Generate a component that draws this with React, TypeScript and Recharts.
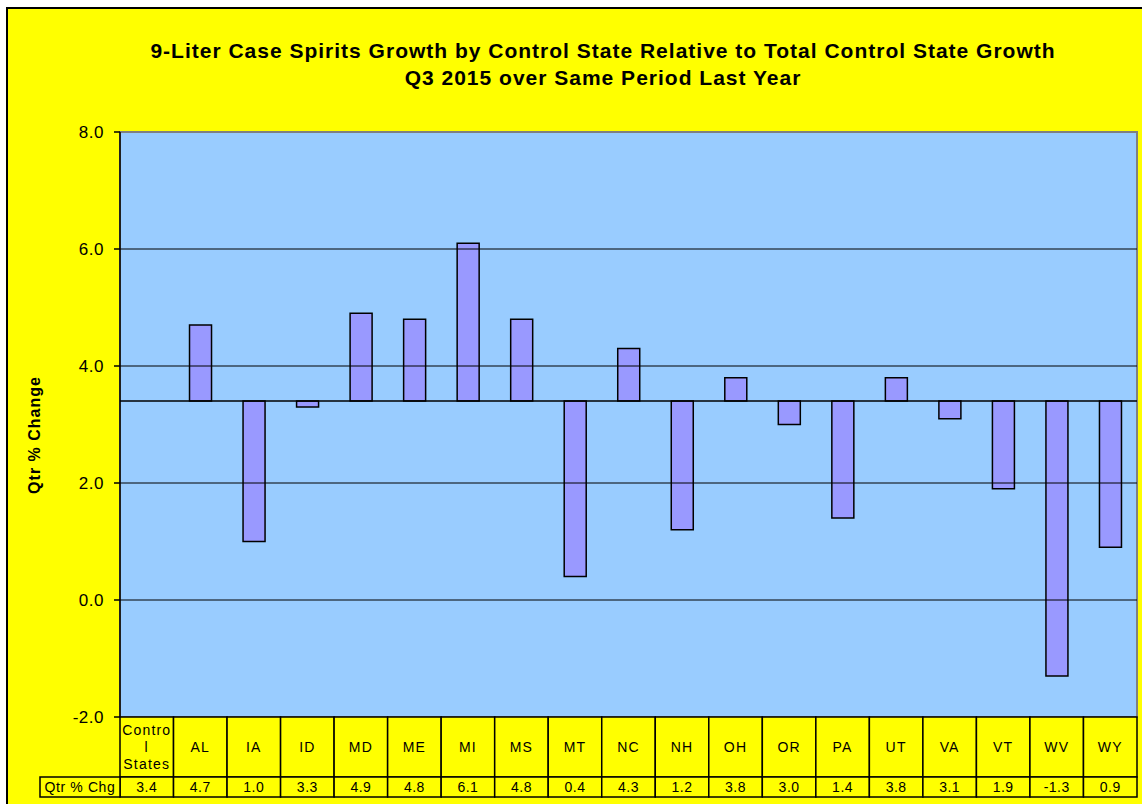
import React from 'react';
import { ComposedChart, Bar, XAxis, YAxis, CartesianGrid, ReferenceLine, ReferenceArea, Label } from 'recharts';

const states = ['Control States', 'AL', 'IA', 'ID', 'MD', 'ME', 'MI', 'MS', 'MT', 'NC', 'NH', 'OH', 'OR', 'PA', 'UT', 'VA', 'VT', 'WV', 'WY'];
const qtrChange = [3.4, 4.7, 1.0, 3.3, 4.9, 4.8, 6.1, 4.8, 0.4, 4.3, 1.2, 3.8, 3.0, 1.4, 3.8, 3.1, 1.9, -1.3, 0.9];
const yTicks = [-2, 0, 2, 4, 6, 8];
const gridValues = [0, 2, 4, 6];

// the total control state growth is where the bars hang from
const base = qtrChange[0];

const data = states.map((state, i) => ({
  state,
  value: qtrChange[i],
  range: [Math.min(base, qtrChange[i]), Math.max(base, qtrChange[i])],
}));

const W = 1142;
const H = 804;
const PLOT_LEFT = 120;
const PLOT_RIGHT = 5;
const BAND = (W - PLOT_LEFT - PLOT_RIGHT) / states.length;
const CAT_ROW = 60;
const VAL_ROW = 20;
const FONT = '"Liberation Sans", Arial, sans-serif';

// Excel wrapped the long category label in its narrow cell
const wrapped: Record<string, string[]> = {
  'Control States': ['Contro', 'l', 'States'],
};

function TableTick(props: any) {
  const { x, y, payload, index } = props;
  const left = x - BAND / 2;
  const lines = wrapped[payload.value] || [payload.value];
  const val = qtrChange[index];
  return (
    <g fontFamily={FONT} fontSize={14} fill="#000">
      <rect x={left} y={y} width={BAND} height={CAT_ROW} fill="#FFFF00" stroke="#000" strokeWidth={1.5} />
      <rect x={left} y={y + CAT_ROW} width={BAND} height={VAL_ROW} fill="#FFFF00" stroke="#000" strokeWidth={1.5} />
      {lines.map((ln, k) => (
        <text
          key={k}
          x={x}
          y={y + CAT_ROW / 2 + 5 + (k - (lines.length - 1) / 2) * 17}
          textAnchor="middle"
          letterSpacing={1.2}
        >
          {ln}
        </text>
      ))}
      <text x={x} y={y + CAT_ROW + 15} textAnchor="middle" letterSpacing={0.5}>
        {val.toFixed(1)}
      </text>
      {index === 0 && (
        <g>
          <rect x={left - 80} y={y + CAT_ROW} width={80} height={VAL_ROW} fill="#FFFF00" stroke="#000" strokeWidth={1.5} />
          <text x={left - 40} y={y + CAT_ROW + 15} textAnchor="middle" letterSpacing={0.6}>
            Qtr % Chg
          </text>
        </g>
      )}
    </g>
  );
}

function YTitle() {
  const cx = 40;
  const cy = 435;
  return (
    <text
      x={cx}
      y={cy}
      transform={`rotate(-90, ${cx}, ${cy})`}
      textAnchor="middle"
      fontFamily={FONT}
      fontSize={16}
      fontWeight="bold"
      letterSpacing={1}
      fill="#000"
    >
      Qtr % Change
    </text>
  );
}

export default function App() {
  return (
    <div style={{ position: 'absolute', left: 0, top: 0, width: W, height: H, background: '#fff', overflow: 'hidden' }}>
      <div
        style={{
          position: 'absolute',
          left: 6,
          top: 7,
          right: -4,
          bottom: -4,
          background: '#FFFF00',
          borderLeft: '2px solid #000',
          borderTop: '2px solid #000',
        }}
      />
      <div
        style={{
          position: 'absolute',
          left: 0,
          top: 37,
          width: 1206,
          textAlign: 'center',
          fontFamily: FONT,
          fontWeight: 'bold',
          fontSize: 21,
          letterSpacing: 1,
          lineHeight: '27px',
          color: '#000',
        }}
      >
        9-Liter Case Spirits Growth by Control State Relative to Total Control State Growth
        <br />
        Q3 2015 over Same Period Last Year
      </div>
      <div style={{ position: 'absolute', left: 0, top: 0 }}>
        <ComposedChart
          width={W}
          height={H}
          data={data}
          margin={{ top: 132, right: PLOT_RIGHT, left: 60, bottom: 87 - (CAT_ROW + VAL_ROW) }}
        >
          <CartesianGrid fill="#99CCFF" stroke="none" vertical={false} horizontal={false} />
          <XAxis
            dataKey="state"
            interval={0}
            tickLine={false}
            axisLine={false}
            tickSize={0}
            tickMargin={0}
            height={CAT_ROW + VAL_ROW}
            tick={<TableTick />}
          />
          <YAxis
            width={60}
            domain={[-2, 8]}
            ticks={yTicks}
            interval={0}
            allowDataOverflow
            tickFormatter={(v: number) => v.toFixed(1)}
            tick={{ fill: '#000', fontSize: 17, fontFamily: FONT, letterSpacing: 0.5 }}
            tickSize={6}
            tickMargin={10}
            axisLine={{ stroke: '#000', strokeWidth: 1.5 }}
            tickLine={{ stroke: '#000', strokeWidth: 1.5 }}
          >
            <Label content={<YTitle />} />
          </YAxis>
          <ReferenceArea y1={-2} y2={8} fill="none" stroke="#808080" strokeWidth={2} ifOverflow="visible" />
          {gridValues.map((g) => (
            <ReferenceLine key={g} y={g} stroke="#000" strokeWidth={1} />
          ))}
          <ReferenceLine y={base} stroke="#000" strokeWidth={1.5} />
          <Bar
            dataKey="range"
            barSize={22}
            fill="#9999FF"
            stroke="#000"
            strokeWidth={1.5}
            isAnimationActive={false}
          />
        </ComposedChart>
      </div>
    </div>
  );
}
